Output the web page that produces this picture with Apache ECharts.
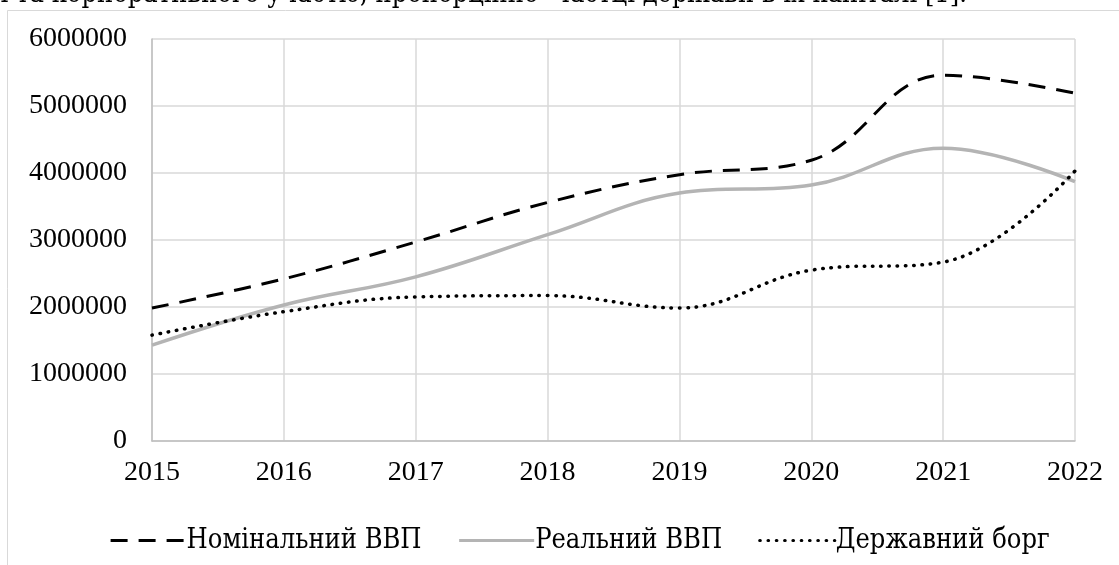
<!DOCTYPE html>
<html>
<head>
<meta charset="utf-8">
<script src="https://cdn.jsdelivr.net/npm/echarts@6/dist/echarts.min.js"></script>
<style>
html,body{margin:0;padding:0;background:#fff;}
#c{width:1119px;height:565px;}
</style>
</head>
<body>
<div id="c"></div>
<script>
const years = ['2015','2016','2017','2018','2019','2020','2021','2022'];
const nominalGDP = [1985000, 2420000, 2970000, 3560000, 3975000, 4190000, 5460000, 5190000];
const realGDP = [1430000, 2030000, 2450000, 3080000, 3700000, 3820000, 4370000, 3870000];
const publicDebt = [1580000, 1930000, 2150000, 2170000, 1985000, 2550000, 2670000, 4030000];
const seriesNames = ['Номінальний ВВП', 'Реальний ВВП', 'Державний борг'];
const caption = 'з державною формою власності та корпоративного участю, пропорційно  частці держави в їх капіталі [1].';

const NUM_FONT = "'Liberation Serif', 'Times New Roman', serif";
const CYR_FONT = '"DejaVu Serif Condensed", "DejaVu Serif", serif';
const chart = echarts.init(document.getElementById('c'), null, {renderer: 'canvas'});
chart.setOption({
  animation: false,
  backgroundColor: '#fff',
  graphic: [
    {type: 'rect', shape: {x: 7.5, y: 10.5, width: 1300, height: 700}, style: {fill: 'none', stroke: '#d9d9d9', lineWidth: 1}, z: -1},
    {type: 'text', x: 967, y: -5, style: {text: caption, fontFamily: CYR_FONT, fontSize: 27, fill: '#000', align: 'right', verticalAlign: 'middle'}}
  ],
  grid: {left: 152, right: 44, top: 39, bottom: 124, containLabel: false},
  xAxis: {
    type: 'category', data: years, boundaryGap: false,
    axisLine: {lineStyle: {color: '#bfbfbf', width: 1.5}},
    axisTick: {show: false},
    axisLabel: {color: '#000', fontSize: 28, fontFamily: NUM_FONT, margin: 18},
    splitLine: {show: true, lineStyle: {color: '#d9d9d9', width: 1.5}}
  },
  yAxis: {
    type: 'value', min: 0, max: 6000000, interval: 1000000,
    axisLine: {show: true, lineStyle: {color: '#bfbfbf', width: 1.5}},
    axisTick: {show: false},
    axisLabel: {color: '#000', fontSize: 28, fontFamily: NUM_FONT, margin: 25, formatter: v => String(v)},
    splitLine: {show: true, lineStyle: {color: '#d9d9d9', width: 1.5}}
  },
  legend: {
    left: 104, top: 522, itemWidth: 75, itemHeight: 14, itemGap: 36,
    itemStyle: {opacity: 0},
    lineStyle: {width: 3.2},
    textStyle: {color: '#000', fontSize: 27, fontFamily: CYR_FONT, padding: [0, 0, 0, -4]},
    data: seriesNames
  },
  series: [
    {name: seriesNames[0], type: 'line', data: nominalGDP, smooth: 0.4, symbol: 'none',
     lineStyle: {color: '#000', width: 3, type: [17, 11]}, itemStyle: {color: '#000'}},
    {name: seriesNames[1], type: 'line', data: realGDP, smooth: 0.4, symbol: 'none',
     lineStyle: {color: '#b4b4b4', width: 3.5}, itemStyle: {color: '#b4b4b4'}},
    {name: seriesNames[2], type: 'line', data: publicDebt, smooth: 0.4, symbol: 'none',
     lineStyle: {color: '#000', width: 3.5, type: [0.5, 7.8], cap: 'round'}, itemStyle: {color: '#000'}}
  ]
});
</script>
</body>
</html>
